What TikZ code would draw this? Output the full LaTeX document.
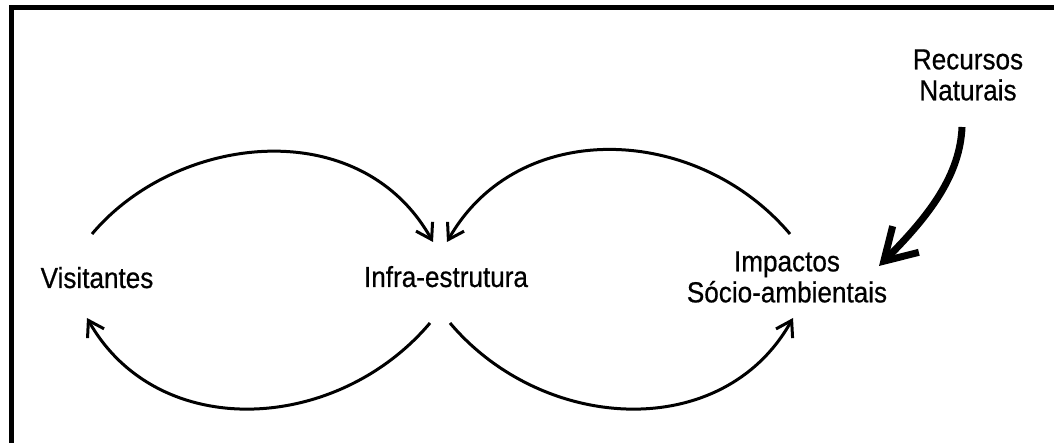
\documentclass[tikz,border=0pt]{standalone}
\usepackage{fontspec}
\setmainfont{Liberation Sans}[FakeStretch=0.9,FakeBold=0.6]
\usetikzlibrary{arrows.meta,calc}

\begin{document}
\begin{tikzpicture}[x=1pt,y=-1pt,
    label/.style={inner sep=0pt,font=\fontsize{29}{31}\selectfont,align=center},
    loop/.style={line width=3pt,-{Straight Barb[length=15pt,width=19pt]}},
    force/.style={line width=7pt,-{Straight Barb[length=31pt,width=37pt]}}]
  \useasboundingbox (0,0) rectangle (1054,443);

  % frame: top and left edges only
  \draw[line width=5pt,miter limit=10] (11.5,443) -- (11.5,7.5) -- (1054,7.5);

  % labels
  \node[label,anchor=base] (vis) at (97,288) {Visitantes};
  \node[label,anchor=base] (infra) at (446,287) {Infra-estrutura};
  \node[label] (imp) at (787,277) {Impactos\\Sócio-ambientais};
  \node[label] (rec) at (968,75) {Recursos\\Naturais};

  % arc end points, placed around the labels
  \coordinate (visT) at ($(vis.base)+(-5,-54)$);
  \coordinate (visB) at ($(vis.base)+(-10,30)$);
  \coordinate (infTL) at ($(infra.base)+(-13,-45)$);
  \coordinate (infTR) at ($(infra.base)+(1,-45)$);
  \coordinate (infBL) at ($(infra.base)+(-16,36)$);
  \coordinate (infBR) at ($(infra.base)+(4,36)$);
  \coordinate (impT) at ($(imp)+(3,-43)$);
  \coordinate (impB) at ($(imp)+(6,41)$);
  \coordinate (recB) at ($(rec)+(-6,52)$);
  \coordinate (impR) at ($(imp)+(92,-11)$);

  % feedback loops
  \draw[loop] (visT) .. controls +(84,-100) and +(-73,-130) .. (infTL);
  \draw[loop] (impT) .. controls +(-93,-110) and +(71,-125) .. (infTR);
  \draw[loop] (infBL) .. controls +(-93,110) and +(71,125) .. (visB);
  \draw[loop] (infBR) .. controls +(93,110) and +(-70,125) .. (impB);

  % external input
  \draw[force] (recB) .. controls +(-2,48) and +(51,-51) .. (impR);
\end{tikzpicture}
\end{document}
